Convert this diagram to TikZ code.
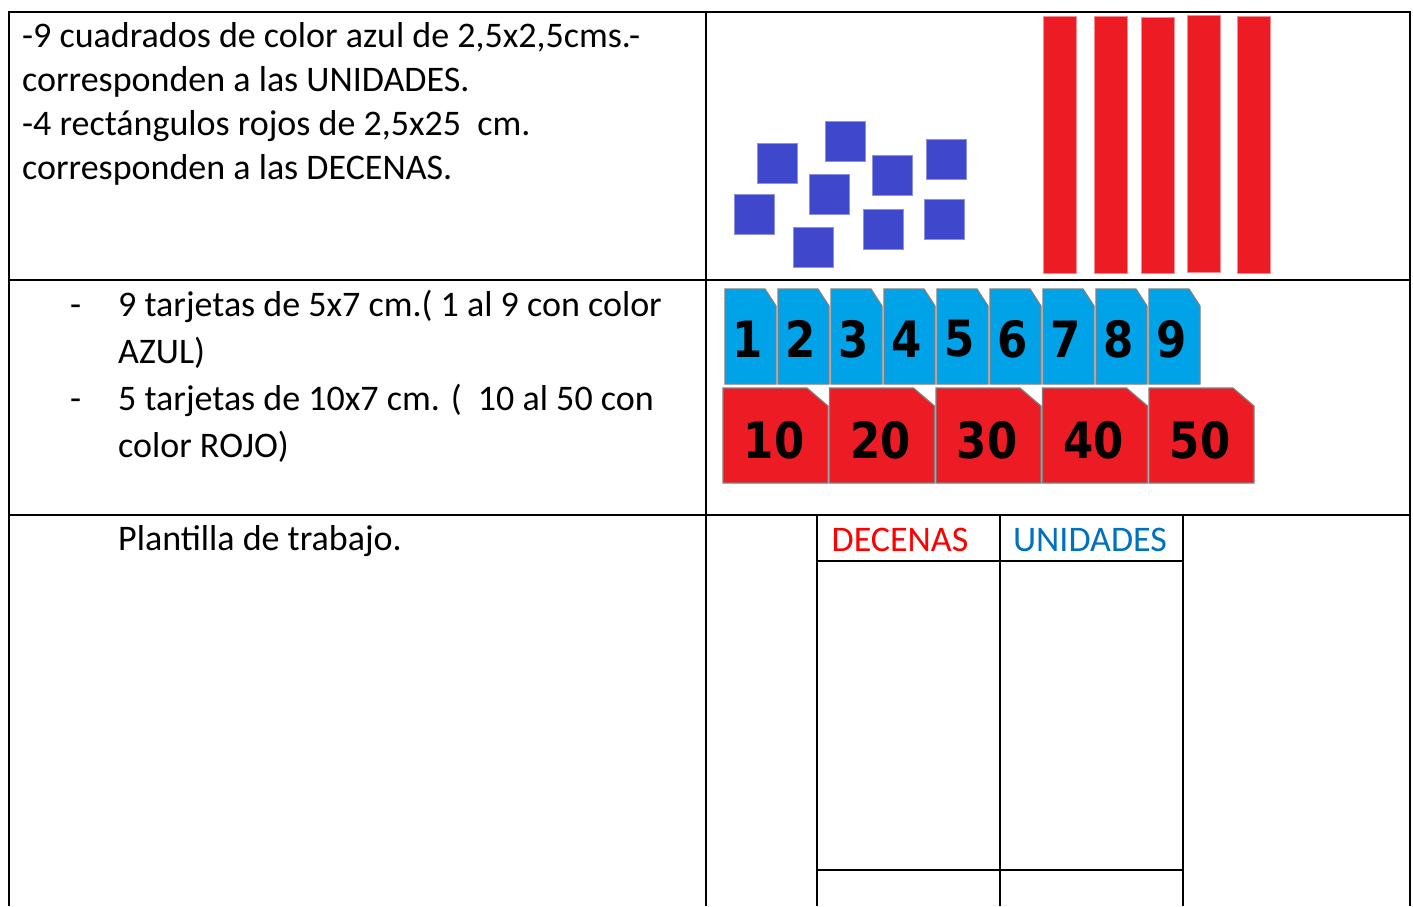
\documentclass[tikz,border=0pt]{standalone}
\usepackage{fontspec}
\setmainfont{Carlito}
\newfontfamily\cardfont[FakeStretch=0.87]{DejaVu Sans}
\usetikzlibrary{positioning}
\definecolor{squareblue}{HTML}{3F48CC}
\definecolor{barred}{HTML}{ED1C24}
\definecolor{cardblue}{HTML}{00A2E8}
\definecolor{headred}{HTML}{FF0000}
\definecolor{headblue}{HTML}{0070C0}

\begin{document}
\begin{tikzpicture}[
    x=1pt, y=-1pt,
    grid/.style={line width=2pt},
    txt/.style={inner sep=0pt, font=\fontsize{36}{44}\selectfont},
    txtb/.style={inner sep=0pt, font=\fontsize{36}{47}\selectfont},
    unit/.style={fill=squareblue, draw=squareblue!60, line width=1pt},
    bar/.style={fill=barred, draw=barred!50, line width=1pt},
    card/.style={draw=gray, line width=1.2pt},
    digit/.style={font=\cardfont\bfseries\fontsize{50}{50}\selectfont}
]
\useasboundingbox (0,0) rectangle (1413,906);

% material: unidades y decenas
\foreach \x/\y in {757/143, 825/121, 872/155, 926/139, 809/174, 734/194, 793/227, 863/209, 924/199}
    \draw[unit] (\x,\y) rectangle ++(40,40);
\foreach \x/\t/\b in {1043/16/273, 1094/16/273, 1141/17/273, 1187/15/272, 1237/16/273}
    \draw[bar] (\x,\t) rectangle (\x+33,\b);

% tarjetas
\foreach \i in {1,...,9} {
    \pgfmathsetmacro{\xl}{725+53*(\i-1)}
    \draw[card, fill=cardblue] (\xl,289) -- ++(40,0) -- ++(11,17) -- (\xl+51,384) -- (\xl,384) -- cycle;
    \node[digit] (b\i) at (\xl+23,339) {\i};
}
\foreach \i in {1,...,5} {
    \pgfmathsetmacro{\xl}{723+106.5*(\i-1)}
    \draw[card, fill=barred] (\xl,388) -- ++(84,0) -- ++(21,18) -- (\xl+105,483) -- (\xl,483) -- cycle;
    \node[digit] (d\i) at (\xl+51,440) {\i0};
}

% textos
\node[txt, anchor=north west, align=left] (units) at (22,16.2)
    {\strut-9 cuadrados de color azul de 2,5x2,5cms.-\\corresponden a las UNIDADES.\\-4 rectángulos rojos de 2,5x25~ cm.\\corresponden a las DECENAS.};
\node[txtb, anchor=base west] (dash1) at (70,316) {-};
\node[txtb, anchor=base west] (dash2) at (70,410) {-};
\node[txtb, anchor=north west, align=left] (cards) at (118,283.1)
    {\strut 9 tarjetas de 5x7 cm.( 1 al 9 con color\\AZUL)\\5 tarjetas de 10x7 cm. (~ 10 al 50 con\\color ROJO)};
\node[txt, anchor=base west] (plan) at (118,550) {Plantilla de trabajo.};
\node[txt, anchor=base, text=headred] (dec) at (900,551) {DECENAS};
\node[txt, anchor=base, text=headblue] (uni) at (1090,551) {UNIDADES};

% tabla
\draw[grid] (9,906) -- (9,12) -- (1410,12) -- (1410,906);
\draw[grid] (9,280) -- (1410,280);
\draw[grid] (9,515) -- (1410,515);
\draw[grid] (706,12) -- (706,906);
\foreach \x in {817,1000,1183}
    \draw[grid] (\x,515) -- (\x,906);
\draw[grid] (817,561) -- (1183,561);
\draw[grid] (817,870) -- (1183,870);
\end{tikzpicture}
\end{document}
